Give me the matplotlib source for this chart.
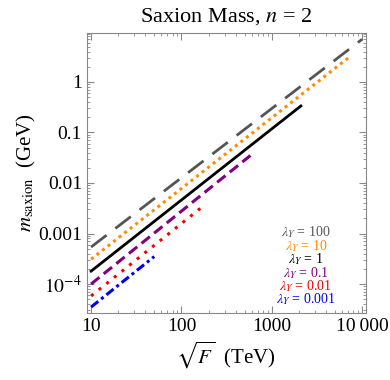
import matplotlib
matplotlib.use("Agg")
import matplotlib.pyplot as plt
import numpy as np

plt.rcParams['font.family'] = ['Liberation Serif', 'DejaVu Serif']
plt.rcParams['mathtext.fontset'] = 'stix'

# endpoints of each curve (sqrt F in TeV, saxion mass in GeV)
lam_labels = ["100", "10", "1", "0.1", "0.01", "0.001"]
x_start = [10, 10, 10, 10, 10, 10]
x_end = [10000, 7200, 2100, 580, 164, 50]
m_start = [5.4e-4, 3.1e-4, 1.8e-4, 1.0e-4, 5.8e-5, 3.5e-5]
m_end = [7.0, 3.1, 0.335, 0.035, 3.2e-3, 3.5e-4]

colors = ["#555555", "#ff8c00", "black", "#800080", "#ee0000", "#0000ee"]
styles = [(0, (7, 4)), (0, (1.0, 1.3)), '-', (0, (3.5, 1.8)), (0, (1.0, 2.2)), (0, (3, 1.2, 1, 1.2))]
widths = [2.0, 2.2, 2.0, 2.2, 2.2, 2.2]

fig = plt.figure(figsize=(3.9, 3.8), dpi=100)
ax = fig.add_axes([0.223, 0.177, 0.715, 0.736])

for i in range(len(lam_labels)):
    ax.plot([x_start[i], x_end[i]], [m_start[i], m_end[i]], color=colors[i],
            linestyle=styles[i], linewidth=widths[i])

ax.set_xscale('log')
ax.set_yscale('log')
ax.set_xlim(9.0, 11000)
ax.set_ylim(2.7e-5, 9.3)

ax.set_xticks([10, 100, 1000, 10000])
ax.set_xticklabels(["10", "100", "1000", "10\u2009000"])
ax.set_yticks([1e-4, 1e-3, 1e-2, 0.1, 1])
ax.set_yticklabels(["$10^{-4}$", "0.001", "0.01", "0.1", "1"])

ax.tick_params(which='both', direction='in', top=True, right=True, color='#888888',
               labelsize=14)
ax.tick_params(which='major', length=5)
ax.tick_params(which='minor', length=2.5)
for s in ax.spines.values():
    s.set_color('#888888')

ax.set_title("Saxion Mass, $n$ = 2", fontsize=16, pad=8)
ax.set_xlabel(r"$\sqrt{F}$  (TeV)", fontsize=15)
ax.set_ylabel(r"$m_{\rm saxion}$  (GeV)", fontsize=15, labelpad=0)

for i in range(len(lam_labels)):
    ax.text(0.785, 0.287 - i * 0.048, r"$\lambda_Y$ = " + lam_labels[i],
            transform=ax.transAxes, ha='center', va='center', fontsize=10,
            color=colors[i])

fig.savefig("out.png", dpi=100)
